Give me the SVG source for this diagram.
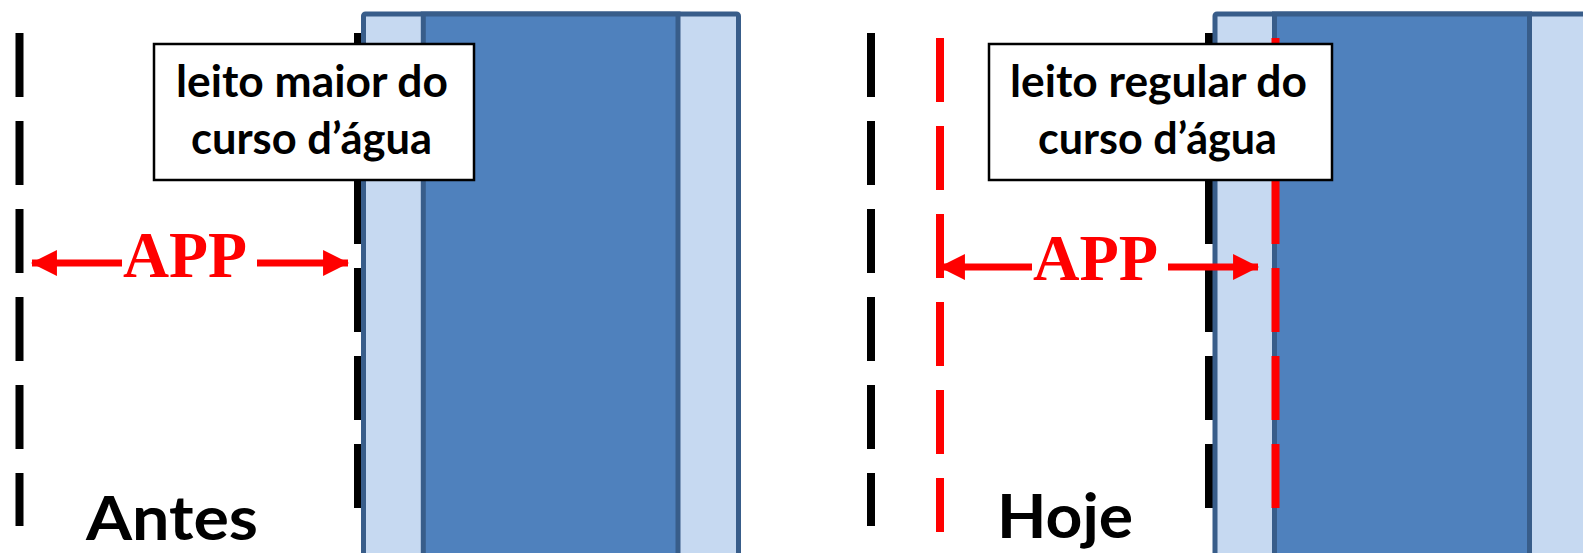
<svg xmlns="http://www.w3.org/2000/svg" width="1583" height="553" viewBox="0 0 1583 553">
  <defs>
    <marker id="ah" markerUnits="userSpaceOnUse" markerWidth="26" markerHeight="26" viewBox="0 0 24 24" refX="23" refY="12" orient="auto-start-reverse">
      <path d="M0,0 L24,12 L0,24 Z" fill="#FF0000"/>
    </marker>
  </defs>
  <style>
    .blk { stroke: #000; stroke-width: 8; fill: none; stroke-dasharray: 64 24; }
    .red { stroke: #FF0000; stroke-width: 8; fill: none; stroke-dasharray: 64 24; }
    .outer { fill: #C6D9F1; stroke: #385D8A; stroke-width: 5; }
    .inner { fill: #4F81BD; stroke: #385D8A; stroke-width: 5; }
    .box { fill: #FFFFFF; stroke: #000; stroke-width: 2.5; }
    .lbl { font-family: Lato, "Open Sans", "Liberation Sans", sans-serif; font-weight: 700; font-size: 44px; fill: #000; text-anchor: middle; }
    .ttl { font-family: Lato, "Open Sans", "Liberation Sans", sans-serif; font-weight: 700; font-size: 62px; fill: #000; text-anchor: middle; }
    .app { font-family: "Liberation Serif", "Times New Roman", serif; font-weight: 700; font-size: 65px; fill: #FF0000; text-anchor: middle; }
    .arr { stroke: #FF0000; stroke-width: 7; fill: none; marker-end: url(#ah); }
  </style>

  <!-- Left panel: Antes -->
  <g id="antes-limite-externo">
    <path class="blk" d="M19.5,33 V526"/>
  </g>
  <g id="antes-limite-leito">
    <path class="blk" d="M358,33 V508" stroke-dashoffset="29"/>
  </g>
  <g id="antes-rio">
    <rect class="outer" x="363.5" y="14" width="375" height="560" rx="2"/>
    <rect class="inner" x="423.3" y="14" width="254.7" height="560"/>
  </g>
  <g id="antes-rotulo">
    <rect class="box" x="154" y="44" width="320" height="136"/>
    <text class="lbl" x="312" y="97" textLength="272" lengthAdjust="spacingAndGlyphs">leito maior do</text>
    <text class="lbl" x="311.5" y="154" textLength="241" lengthAdjust="spacingAndGlyphs">curso d’água</text>
  </g>
  <g id="antes-titulo">
    <text class="ttl" x="172" y="540" textLength="172" lengthAdjust="spacingAndGlyphs">Antes</text>
  </g>

  <!-- Right panel: Hoje -->
  <g id="hoje-limite-externo">
    <path class="blk" d="M871,33 V526"/>
  </g>
  <g id="hoje-limite-app">
    <path class="red" d="M940,38 V532"/>
  </g>
  <g id="hoje-limite-leito">
    <path class="blk" d="M1209,33 V508" stroke-dashoffset="29"/>
  </g>
  <g id="hoje-rio">
    <rect class="outer" x="1215" y="14" width="375" height="560" rx="2"/>
    <rect class="inner" x="1274.5" y="14" width="255" height="560"/>
  </g>
  <g id="hoje-limite-regular">
    <path class="red" d="M1275.5,38 V508" stroke-dashoffset="34"/>
  </g>
  <g id="hoje-rotulo">
    <rect class="box" x="989" y="44" width="343" height="136"/>
    <text class="lbl" x="1158.5" y="97" textLength="297" lengthAdjust="spacingAndGlyphs">leito regular do</text>
    <text class="lbl" x="1157.5" y="154" textLength="239" lengthAdjust="spacingAndGlyphs">curso d’água</text>
  </g>
  <g id="hoje-titulo">
    <text class="ttl" x="1065" y="538" textLength="136" lengthAdjust="spacingAndGlyphs">Hoje</text>
  </g>

  <!-- Connectors: APP dimension arrows -->
  <g id="connectors">
    <path class="arr" d="M122,263 H32"/>
    <path class="arr" d="M257,263 H348"/>
    <path class="arr" d="M1032,267 H940"/>
    <path class="arr" d="M1168,267 H1258"/>
  </g>
  <g id="app-labels">
    <text class="app" x="185" y="277" textLength="124" lengthAdjust="spacingAndGlyphs">APP</text>
    <text class="app" x="1095.5" y="280" textLength="125" lengthAdjust="spacingAndGlyphs">APP</text>
  </g>
</svg>
